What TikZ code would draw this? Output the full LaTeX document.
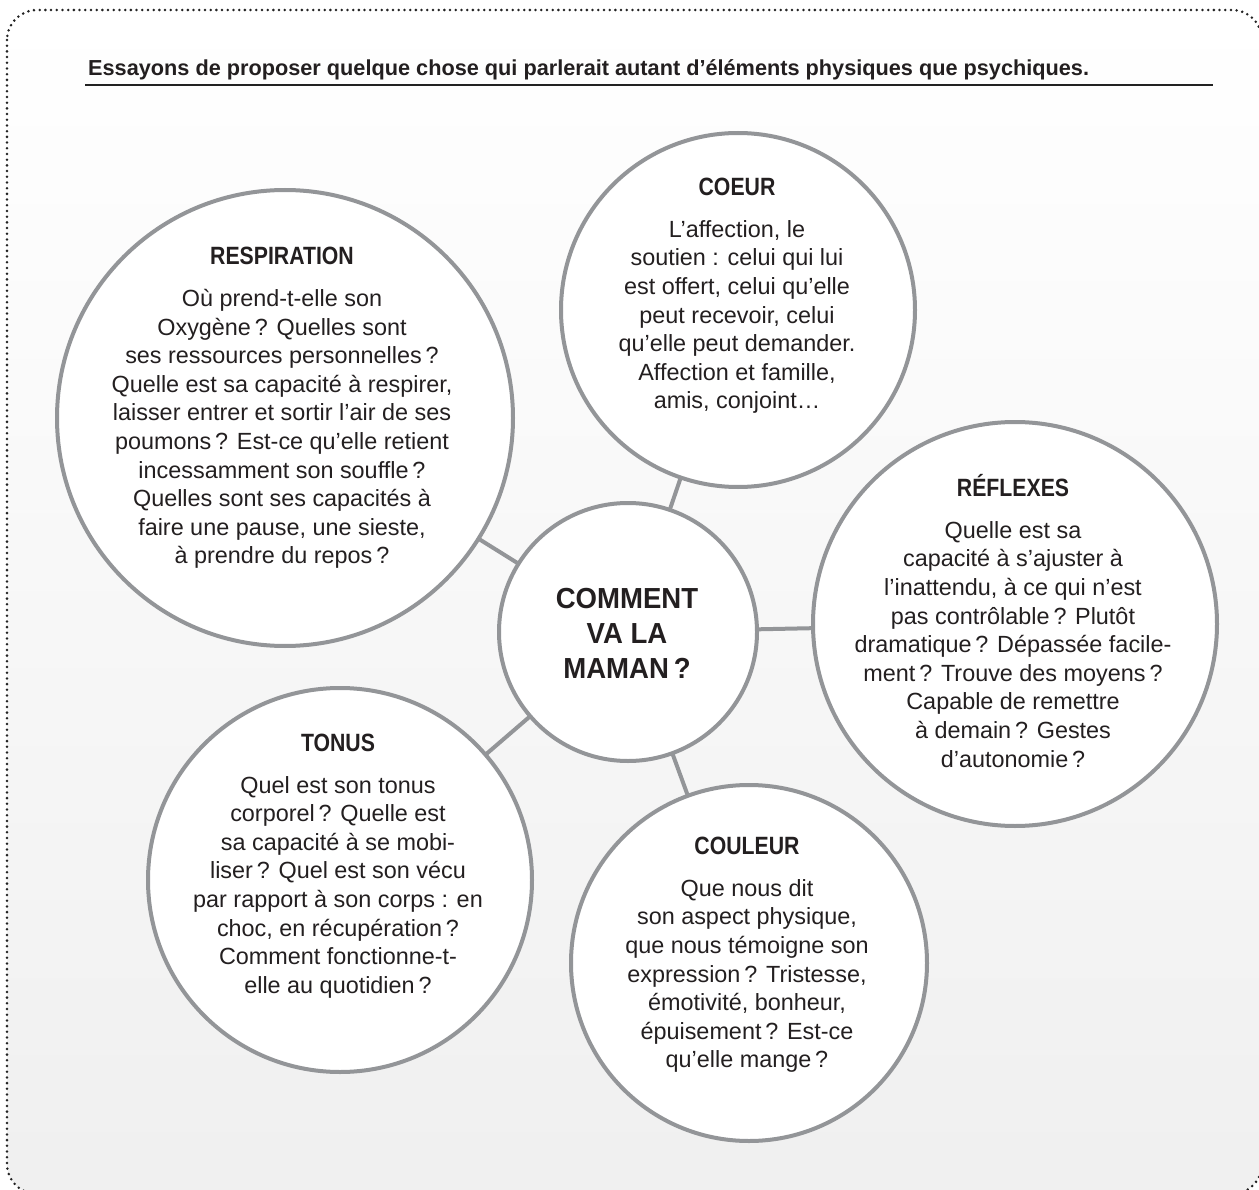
\documentclass[tikz,border=0pt]{standalone}
\usepackage{fontspec}
\setmainfont{Liberation Sans}
\newfontfamily\titlefont[FakeStretch=0.85]{Liberation Sans}
\newfontfamily\centerfont[FakeStretch=0.95]{Liberation Sans}
\definecolor{ringgray}{HTML}{939598}
\definecolor{inkc}{HTML}{231F20}
\definecolor{dotc}{HTML}{222222}
\tikzset{
  bubble/.style={circle, draw=ringgray, line width=4pt, fill=white, inner sep=0pt, outer sep=0pt},
  link/.style={draw=ringgray, line width=4pt},
  bodytext/.style={align=center, text=inkc, inner sep=0pt, font=\fontsize{23.4}{28.6}\selectfont},
  centertext/.style={align=center, text=inkc, inner sep=0pt, font=\centerfont\bfseries\fontsize{29}{35}\selectfont},
}
\newcommand{\ttl}[1]{{\titlefont\bfseries\fontsize{25}{28.6}\selectfont #1}}
\begin{document}
\begin{tikzpicture}[x=1pt,y=-1pt]
\useasboundingbox (0,0) rectangle (1259,1190);
\clip (0,0) rectangle (1259,1190);
\fill[white] (0,0) rectangle (1259,1190);
\shade[top color=white, bottom color=gray!12, rounded corners=30pt] (7,10) rectangle (1262,1194);
\draw[dotc, line width=2.8pt, line cap=round, dash pattern=on 0pt off 5.7pt, rounded corners=30pt] (7,10) rectangle (1262,1194);

% header
\node[anchor=base west, text=inkc, inner sep=0pt, font=\bfseries\fontsize{21.7}{25}\selectfont] (head) at (88,76)
  {Essayons de proposer quelque chose qui parlerait autant d’éléments physiques que psychiques.};
\coordinate (ulA) at (85,85);
\coordinate (ulB) at (1213,85);
\draw[dotc, line width=1.5pt] (ulA) -- (ulB);

% circles
\node[bubble, minimum size=258pt] (main) at (628,632) {};
\node[bubble, minimum size=456pt] (resp) at (285,418) {};
\node[bubble, minimum size=354pt] (coeur) at (738,310) {};
\node[bubble, minimum size=404pt] (refl) at (1015,624) {};
\node[bubble, minimum size=384pt] (tonus) at (340,880) {};
\node[bubble, minimum size=356pt] (coul) at (749,963) {};

% connectors
\draw[link] (main) -- (resp);
\draw[link] (main) -- (coeur);
\draw[link] (main) -- (refl);
\draw[link] (main) -- (tonus);
\draw[link] (main) -- (coul);

% texts
\node[centertext] (maintxt) at (627,633) {COMMENT\\VA LA\\MAMAN\,?};

\node[bodytext] (resptxt) at (282,408) {\ttl{RESPIRATION}\\[13pt]
Où prend-t-elle son\\
Oxygène\,? Quelles sont\\
ses ressources personnelles\,?\\
Quelle est sa capacité à respirer,\\
laisser entrer et sortir l’air de ses\\
poumons\,? Est-ce qu’elle retient\\
incessamment son souffle\,?\\
Quelles sont ses capacités à\\
faire une pause, une sieste,\\
à prendre du repos\,?};

\node[bodytext] (coeurtxt) at (737,296) {\ttl{COEUR}\\[13pt]
L’affection, le\\
soutien : celui qui lui\\
est offert, celui qu’elle\\
peut recevoir, celui\\
qu’elle peut demander.\\
Affection et famille,\\
amis, conjoint…};

\node[bodytext] (refltxt) at (1013,621) {\ttl{RÉFLEXES}\\[13pt]
Quelle est sa\\
capacité à s’ajuster à\\
l’inattendu, à ce qui n’est\\
pas contrôlable\,? Plutôt\\
dramatique\,? Dépassée facile-\\
ment\,? Trouve des moyens\,?\\
Capable de remettre\\
à demain\,? Gestes\\
d’autonomie\,?};

\node[bodytext] (tonustxt) at (338,866) {\ttl{TONUS}\\[13pt]
Quel est son tonus\\
corporel\,? Quelle est\\
sa capacité à se mobi-\\
liser\,? Quel est son vécu\\
par rapport à son corps : en\\
choc, en récupération\,?\\
Comment fonctionne-t-\\
elle au quotidien\,?};

\node[bodytext] (coultxt) at (747,955) {\ttl{COULEUR}\\[13pt]
Que nous dit\\
son aspect physique,\\
que nous témoigne son\\
expression\,? Tristesse,\\
émotivité, bonheur,\\
épuisement\,? Est-ce\\
qu’elle mange\,?};
\end{tikzpicture}
\end{document}
